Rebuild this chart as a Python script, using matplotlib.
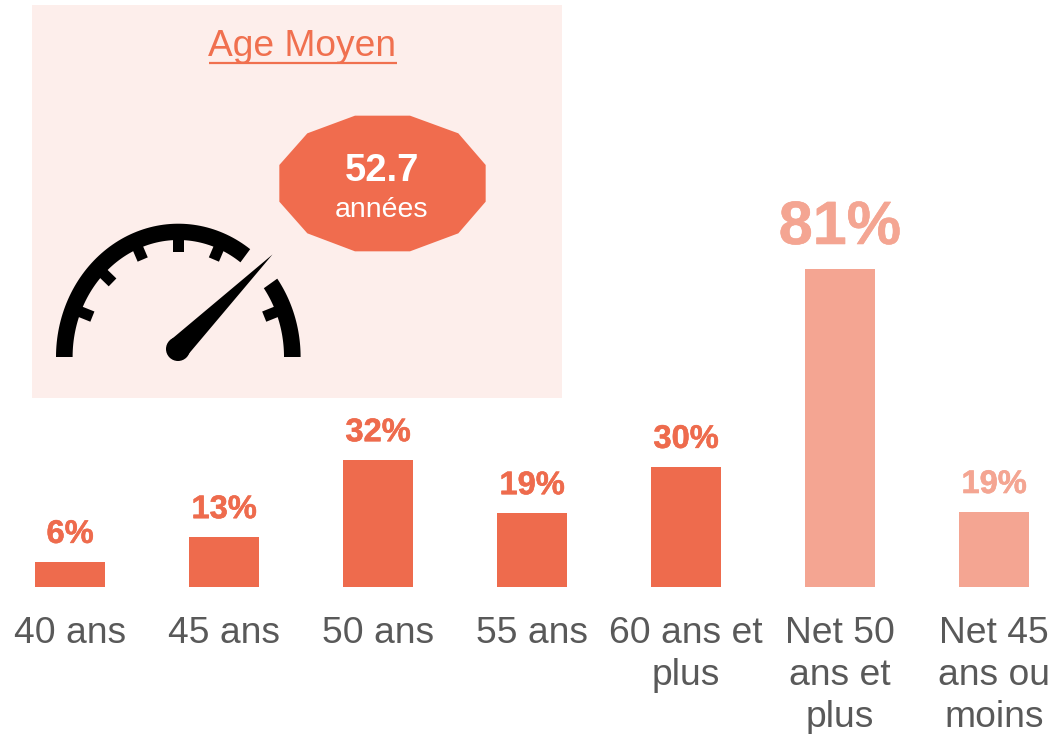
import numpy as np
import matplotlib
matplotlib.use("Agg")
import matplotlib.pyplot as plt
from matplotlib.patches import Rectangle, Polygon, Ellipse
import matplotlib.patheffects as pe

plt.rcParams['font.family'] = ['Liberation Sans', 'DejaVu Sans']

# data
categories = ["40 ans", "45 ans", "50 ans", "55 ans", "60 ans et\nplus", "Net 50\nans et\nplus", "Net 45\nans ou\nmoins"]
values = [6.4, 12.7, 32.3, 18.8, 30.6, 81, 19.1]
value_labels = ["6%", "13%", "32%", "19%", "30%", "81%", "19%"]
value_sizes = [23.5, 23.5, 23.5, 23.5, 23.5, 44, 23.5]
mean_age = "52.7"
mean_unit = "années"
panel_title = "Age Moyen"
gauge_ticks = [22.5, 67.5, 90, 112.5, 135, 157.5]

DARK = "#EE6B4D"
LIGHT = "#F4A592"
GREY = "#595959"
W, H = 1055, 734

fig = plt.figure(figsize=(W / 100, H / 100), dpi=100, facecolor="white")

# pixel axes for the panel and the gauge
deco = fig.add_axes([0, 0, 1, 1])
deco.set_xlim(0, W)
deco.set_ylim(H, 0)
deco.axis("off")

deco.add_patch(Rectangle((32, 5), 530, 393, fc="#FDEEEB", ec="none"))
deco.text(302.5, 47, panel_title, color="#F0704F", fontsize=26.7, ha="center", va="center")
deco.plot([208.5, 396.5], [62.5, 62.5], color="#F0704F", lw=1.6, solid_capstyle="butt")

# badge
badge = [(975, 47), (1140, 47), (1285, 100), (1367, 195), (1367, 305), (1285, 400),
         (1140, 454), (975, 454), (832, 400), (748, 305), (748, 195), (832, 100)]
badge = [(x / 3 + 30, y / 3 + 100) for x, y in badge]
deco.add_patch(Polygon(badge, closed=True, fc="#F06C4E", ec="none"))
deco.text(382, 171, mean_age, color="white", fontsize=27.5, fontweight="bold", ha="center", va="center")
deco.text(382, 210, mean_unit, color="white", fontsize=20.4, ha="center", va="center")

# gauge, stretched a little in height
cx, cy = 178.3, 357
rx_o, ry_o = 122.3, 133.3
rx_i, ry_i = 105.7, 117


def arc(a0, a1):
    t = np.radians(np.linspace(a0, a1, 80))
    outer = np.c_[cx + rx_o * np.cos(t), cy - ry_o * np.sin(t)]
    inner = np.c_[cx + rx_i * np.cos(t[::-1]), cy - ry_i * np.sin(t[::-1])]
    return np.vstack([outer, inner])


deco.add_patch(Polygon(arc(0, 36), closed=True, fc="black", ec="none"))
deco.add_patch(Polygon(arc(54, 180), closed=True, fc="black", ec="none"))
for a in gauge_ticks:
    t = np.radians(a)
    c, s = np.cos(t), np.sin(t)
    inner_pt = np.array([cx + 93 * c, cy - 105.5 * s])
    outer_pt = np.array([cx + 110 * c, cy - 122 * s])
    d = (outer_pt - inner_pt) / np.hypot(*(outer_pt - inner_pt))
    n = np.array([-d[1], d[0]])
    pts = [inner_pt + n * 5.5, outer_pt + n * 5.5, outer_pt - n * 5.5, inner_pt - n * 5.5]
    deco.add_patch(Polygon(pts, closed=True, fc="black", ec="none"))

# needle
deco.add_patch(Polygon([(170, 340.5), (272.5, 254.5), (186.5, 356.5)], closed=True, fc="black", ec="none"))
deco.add_patch(Ellipse((178, 349), 24, 24, fc="black", ec="none"))

# bars, on an axes lined up with the figure
px_per_pct = 318 / 81
ax = fig.add_axes([0, 0, 1, 1])
ax.patch.set_alpha(0)
ax.set_xlim(-70 / 154, (W - 70) / 154)
ax.set_ylim(-(H - 587) / px_per_pct, 587 / px_per_pct)
ax.axis("off")

x = np.arange(len(values))
colors = [DARK] * 5 + [LIGHT] * 2
ax.bar(x, values, width=70 / 154, color=colors)

for i, v in enumerate(values):
    ax.annotate(value_labels[i], (i, v), xytext=(0, 12), textcoords="offset pixels", ha="center", va="bottom",
                color=colors[i], fontsize=value_sizes[i], fontweight="bold",
                path_effects=[pe.withStroke(linewidth=0.4, foreground=colors[i])])
    ax.annotate(categories[i], (i, 0), xytext=(0, -29), textcoords="offset pixels", ha="center", va="top",
                color=GREY, fontsize=26.8, linespacing=1.265)

fig.savefig("out.png", dpi=100)
